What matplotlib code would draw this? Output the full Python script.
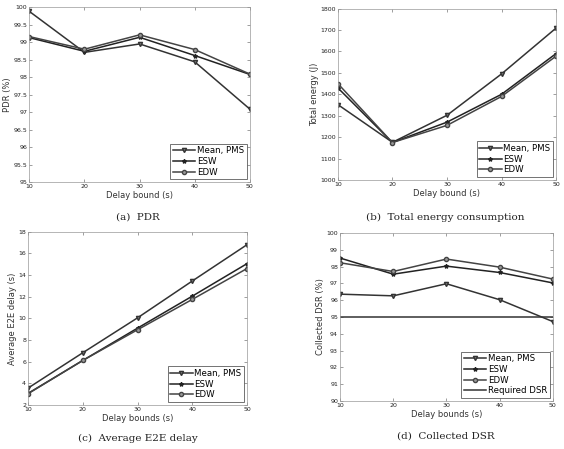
import matplotlib.pyplot as plt
import numpy as np

delay = [10, 20, 30, 40, 50]

# (a) PDR
pdr_pms = [99.88, 98.71, 98.95, 98.44, 97.09]
pdr_esw = [99.13, 98.74, 99.14, 98.62, 98.08]
pdr_edw = [99.16, 98.80, 99.21, 98.79, 98.09]

# (b) Total energy
en_pms = [1352, 1176, 1302, 1495, 1709]
en_esw = [1430, 1175, 1270, 1400, 1590]
en_edw = [1450, 1175, 1255, 1390, 1578]

# (c) Average E2E delay
e2e_pms = [3.57, 6.83, 10.05, 13.45, 16.8]
e2e_esw = [3.08, 6.12, 9.1, 12.05, 15.05]
e2e_edw = [3.05, 6.12, 8.95, 11.75, 14.6]

# (d) Collected DSR
dsr_pms = [96.36, 96.26, 96.98, 96.03, 94.73]
dsr_esw = [98.51, 97.55, 98.03, 97.65, 97.03]
dsr_edw = [98.23, 97.71, 98.45, 97.97, 97.26]
dsr_req = 95

labels = ['Mean, PMS', 'ESW', 'EDW']
captions = ['(a)  PDR', '(b)  Total energy consumption',
            '(c)  Average E2E delay', '(d)  Collected DSR']

lc = '#333333'
fig = plt.figure(figsize=(5.64, 4.49), dpi=100)

def draw(ax, ys, ylim, yticks, ylabel, xlabel, req=None):
    ax.plot(delay, ys[0], color=lc, lw=1.1, marker='v', ms=3, mfc='#777777', mec=lc, label=labels[0])
    ax.plot(delay, ys[1], color='#222222', lw=1.1, marker='*', ms=3, mfc='#222222', mec='#222222', label=labels[1])
    ax.plot(delay, ys[2], color='#444444', lw=1.1, marker='o', ms=3, mfc='#999999', mec='#444444', label=labels[2])
    if req is not None:
        ax.axhline(req, color=lc, lw=1.1, label='Required DSR')
    ax.set_xlim(10, 50)
    ax.set_ylim(*ylim)
    ax.set_xticks(delay)
    ax.set_yticks(yticks)
    ax.set_yticklabels([f'{t:g}' for t in yticks])
    ax.tick_params(direction='in', labelsize=4.5, length=2, width=0.4, colors='#555555', labelcolor='#222222',
                   top=True, right=True, pad=1.5)
    for s in ax.spines.values():
        s.set_color('#999999')
        s.set_linewidth(0.5)
    ax.set_xlabel(xlabel, fontsize=6, color='#333333', labelpad=1.5)
    ax.set_ylabel(ylabel, fontsize=6, color='#333333', labelpad=1)
    leg = ax.legend(loc='lower right', fontsize=6.2, frameon=True, fancybox=False,
                    edgecolor='#333333', handlelength=2.6, borderpad=0.3, labelspacing=0.2,
                    handletextpad=0.2, borderaxespad=0.35)
    leg.get_frame().set_linewidth(0.6)

ax1 = fig.add_axes([0.052, 0.594, 0.391, 0.390])
draw(ax1, [pdr_pms, pdr_esw, pdr_edw], (95, 100), np.arange(95, 100.01, 0.5), 'PDR (%)', 'Delay bound (s)')
ax2 = fig.add_axes([0.599, 0.599, 0.387, 0.382])
draw(ax2, [en_pms, en_esw, en_edw], (1000, 1800), np.arange(1000, 1801, 100), 'Total energy (J)', 'Delay bound (s)')
ax3 = fig.add_axes([0.050, 0.098, 0.388, 0.386])
draw(ax3, [e2e_pms, e2e_esw, e2e_edw], (2, 18), np.arange(2, 19, 2), 'Average E2E delay (s)', 'Delay bounds (s)')
ax4 = fig.add_axes([0.603, 0.107, 0.377, 0.374])
draw(ax4, [dsr_pms, dsr_esw, dsr_edw], (90, 100), np.arange(90, 101, 1), 'Collected DSR (%)', 'Delay bounds (s)', req=dsr_req)

cap_pos = [(0.245, 1 - 217 / 449), (0.79, 1 - 217 / 449), (0.245, 1 - 438 / 449), (0.79, 1 - 436 / 449)]
for (x, y), c in zip(cap_pos, captions):
    fig.text(x, y, c, ha='center', va='center', fontsize=7.5, family='DejaVu Serif', color='#222222')

plt.savefig('out.png', dpi=100)
